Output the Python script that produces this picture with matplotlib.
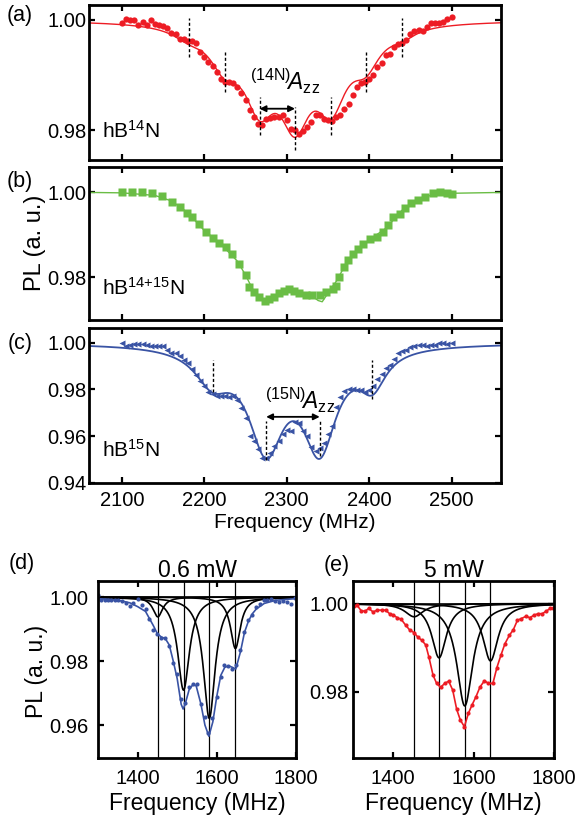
import numpy as np
import matplotlib
matplotlib.use('Agg')
import matplotlib.pyplot as plt

plt.rcParams['font.family'] = ['Liberation Sans', 'DejaVu Sans']
plt.rcParams['mathtext.fontset'] = 'custom'
plt.rcParams['mathtext.rm'] = 'Liberation Sans'
plt.rcParams['mathtext.it'] = 'Liberation Sans:italic'
plt.rcParams['mathtext.bf'] = 'Liberation Sans:bold'

RED = '#ed1c24'
GREEN = '#6abd45'
BLUE = '#3953a4'

# ---------------- (a) hB14N ----------------
a_x = np.arange(2100, 2501, 5)
a_y = [0.9994, 1.0001, 0.9999, 0.9999, 0.9991, 0.9996, 0.9991, 0.9999, 0.9993, 0.9991,
       0.9989, 0.9985, 0.9976, 0.9974, 0.9965, 0.9965, 0.9961, 0.9962, 0.9958, 0.9941,
       0.9932, 0.9924, 0.9917, 0.9906, 0.9892, 0.9888, 0.9887, 0.9885, 0.9879, 0.9867,
       0.9855, 0.9836, 0.9824, 0.9811, 0.9809, 0.9820, 0.9823, 0.9824, 0.9824, 0.9827,
       0.9819, 0.9803, 0.9801, 0.9794, 0.9799, 0.9806, 0.9815, 0.9828, 0.9828, 0.9821,
       0.9818, 0.9817, 0.9824, 0.9827, 0.9838, 0.9848, 0.9864, 0.9879, 0.9885, 0.9888,
       0.9893, 0.9901, 0.9915, 0.9922, 0.9936, 0.9939, 0.9950, 0.9956, 0.9958, 0.9964,
       0.9974, 0.9979, 0.9982, 0.9980, 0.9987, 0.9994, 0.9994, 0.9994, 0.9997, 1.0002,
       1.0006]
# fitted hyperfine lines (center, depth, half width)
a_centers = [2181, 2225, 2267, 2310, 2354, 2396, 2440]
a_depths = [0.0016, 0.0062, 0.0125, 0.0150, 0.0125, 0.0058, 0.0014]
a_hwhm = [23, 23, 23, 23, 23, 21, 20]
a_marks = [(2181, 0.9933, 1.0003), (2225, 0.9870, 0.9941), (2267, 0.9791, 0.9861),
           (2310, 0.9765, 0.9842), (2354, 0.9791, 0.9861), (2396, 0.9870, 0.9941),
           (2440, 0.9933, 1.0003)]

# ---------------- (b) hB14+15N ----------------
b_x = [2100, 2112, 2124, 2137, 2149, 2161, 2171, 2179, 2185, 2193, 2202, 2210, 2218, 2226,
       2234, 2242, 2250, 2254, 2260, 2266, 2273, 2279, 2285, 2291, 2297, 2303, 2309, 2315,
       2323, 2331, 2340, 2348, 2356, 2360, 2364, 2370, 2374, 2380, 2386, 2392, 2401, 2409,
       2417, 2423, 2429, 2437, 2443, 2451, 2459, 2468, 2478, 2486, 2494, 2500]
b_y = [1.0000, 1.0000, 1.0000, 0.9998, 0.9991, 0.9978, 0.9966, 0.9952, 0.9942, 0.9926,
       0.9907, 0.9893, 0.9881, 0.9871, 0.9855, 0.9832, 0.9804, 0.9776, 0.9764, 0.9754,
       0.9745, 0.9749, 0.9754, 0.9762, 0.9768, 0.9772, 0.9768, 0.9762, 0.9758, 0.9757,
       0.9757, 0.9764, 0.9772, 0.9780, 0.9800, 0.9824, 0.9841, 0.9855, 0.9867, 0.9879,
       0.9889, 0.9896, 0.9907, 0.9923, 0.9941, 0.9950, 0.9964, 0.9974, 0.9982, 0.9990,
       0.9998, 1.0000, 0.9998, 0.9996]
b_fit_x = [2060, 2100, 2140, 2160, 2180, 2200, 2220, 2240, 2250, 2260, 2270, 2280, 2290,
           2300, 2310, 2320, 2330, 2338, 2343, 2350, 2360, 2370, 2380, 2400, 2420, 2440,
           2460, 2480, 2500, 2560]
b_fit_y = [1.0000, 0.9999, 0.9993, 0.9980, 0.9952, 0.9910, 0.9878, 0.9838, 0.9805, 0.9766,
           0.9748, 0.9747, 0.9760, 0.9769, 0.9766, 0.9760, 0.9757, 0.9745, 0.9742, 0.9762,
           0.9790, 0.9825, 0.9855, 0.9888, 0.9915, 0.9958, 0.9983, 0.9997, 0.9998, 1.0000]

# ---------------- (c) hB15N ----------------
c_x = np.arange(2100, 2501, 5)
c_y = [1.0000, 0.9986, 0.9990, 0.9993, 0.9993, 0.9993, 0.9990, 0.9987, 0.9987, 0.9986,
       0.9986, 0.9968, 0.9957, 0.9954, 0.9942, 0.9928, 0.9914, 0.9886, 0.9860, 0.9835,
       0.9817, 0.9788, 0.9781, 0.9774, 0.9770, 0.9770, 0.9767, 0.9774, 0.9753, 0.9721,
       0.9680, 0.9601, 0.9580, 0.9544, 0.9508, 0.9508, 0.9530, 0.9558, 0.9580, 0.9609,
       0.9626, 0.9623, 0.9659, 0.9655, 0.9623, 0.9601, 0.9554, 0.9537, 0.9548, 0.9573,
       0.9609, 0.9645, 0.9724, 0.9767, 0.9793, 0.9803, 0.9803, 0.9799, 0.9796, 0.9791,
       0.9796, 0.9817, 0.9846, 0.9868, 0.9892, 0.9906, 0.9932, 0.9954, 0.9965, 0.9971,
       0.9980, 0.9986, 0.9990, 0.9990, 0.9986, 0.9990, 0.9990, 0.9997, 1.0000, 0.9993,
       0.9998]
c_centers = [2210, 2275, 2340, 2404]
c_depths = [0.014, 0.042, 0.042, 0.015]
c_hwhm = [26, 26, 25, 20]
c_marks = [(2210, 0.9788, 0.9925), (2275, 0.9500, 0.9666),
           (2340, 0.9515, 0.9666), (2404, 0.9760, 0.9925)]

# ---------------- (d) 0.6 mW ----------------
d_x = [1300, 1308, 1317, 1325, 1334, 1342, 1351, 1361, 1370, 1380, 1389, 1400, 1410,
       1420, 1429, 1439, 1449, 1459, 1470, 1480, 1490, 1500, 1509, 1519, 1530, 1539,
       1549, 1559, 1569, 1579, 1589, 1600, 1610, 1619, 1629, 1639, 1649, 1659, 1669,
       1678, 1688, 1698, 1708, 1718, 1728, 1738, 1748, 1758, 1768, 1778, 1788, 1798]
d_y = [1.0005, 0.9992, 0.9990, 0.9992, 0.9992, 0.9990, 0.9992, 0.9988, 0.9981, 0.9971,
       0.9981, 0.9995, 0.9974, 0.9964, 0.9932, 0.9896, 0.9884, 0.9873, 0.9873, 0.9846,
       0.9794, 0.9761, 0.9680, 0.9670, 0.9719, 0.9728, 0.9727, 0.9665, 0.9624, 0.9576,
       0.9621, 0.9688, 0.9751, 0.9787, 0.9784, 0.9774, 0.9787, 0.9834, 0.9891, 0.9927,
       0.9943, 0.9969, 0.9979, 0.9990, 0.9990, 0.9993, 0.9988, 0.9984, 0.9988, 0.9984,
       0.9977, 0.9998]
d_fit_x = [1300, 1350, 1380, 1400, 1420, 1440, 1450, 1460, 1470, 1480, 1490, 1500, 1510,
           1515, 1520, 1530, 1540, 1548, 1560, 1570, 1580, 1590, 1600, 1610, 1620, 1630,
           1640, 1648, 1660, 1670, 1680, 1690, 1700, 1720, 1750, 1800]
d_fit_y = [0.9995, 0.9990, 0.9982, 0.9970, 0.9955, 0.9910, 0.9885, 0.9875, 0.9870, 0.9850,
           0.9800, 0.9745, 0.9665, 0.9650, 0.9665, 0.9710, 0.9727, 0.9722, 0.9665, 0.9600,
           0.9565, 0.9610, 0.9690, 0.9755, 0.9780, 0.9785, 0.9780, 0.9775, 0.9830, 0.9890,
           0.9925, 0.9948, 0.9963, 0.9980, 0.9990, 0.9995]
d_centers = [1451, 1516, 1581, 1647]
d_depths = [0.0062, 0.0291, 0.0379, 0.0161]
d_hwhm = [15, 18, 18, 15]

# ---------------- (e) 5 mW ----------------
e_x = [1302, 1310, 1321, 1331, 1339, 1350, 1360, 1371, 1381, 1391, 1400, 1410, 1420,
       1431, 1441, 1452, 1462, 1471, 1481, 1489, 1499, 1508, 1518, 1528, 1538, 1548,
       1558, 1567, 1577, 1587, 1596, 1606, 1616, 1627, 1637, 1648, 1658, 1668, 1678,
       1689, 1699, 1709, 1719, 1730, 1740, 1751, 1761, 1771, 1781, 1791, 1798]
e_y = [0.9994, 0.9996, 0.9983, 0.9983, 0.9989, 0.9981, 0.9985, 0.9985, 0.9985, 0.9977,
       0.9974, 0.9968, 0.9964, 0.9951, 0.9940, 0.9934, 0.9923, 0.9917, 0.9906, 0.9878,
       0.9838, 0.9819, 0.9810, 0.9819, 0.9824, 0.9804, 0.9760, 0.9736, 0.9721, 0.9751,
       0.9770, 0.9789, 0.9811, 0.9825, 0.9819, 0.9819, 0.9855, 0.9883, 0.9909, 0.9928,
       0.9941, 0.9962, 0.9966, 0.9971, 0.9968, 0.9974, 0.9977, 0.9977, 0.9983, 0.9989,
       0.9989]
e_centers = [1452, 1514, 1578, 1642]
e_depths = [0.0030, 0.0123, 0.0232, 0.0130]
e_hwhm = [28, 22, 24, 23]


def lorentz(f, c, depth, hw):
    return depth / (1.0 + ((f - c) / hw) ** 2)


W, H = 577, 819
fig = plt.figure(figsize=(W / 100, H / 100), dpi=100)


def rect(l, t, r, b):
    return [l / W, 1 - b / H, (r - l) / W, (b - t) / H]


def style(ax, ypad=1.5, xpad=6):
    for s in ax.spines.values():
        s.set_linewidth(2.0)
    ax.tick_params(direction='in', top=True, right=True, length=4, width=1.6,
                   labelsize=14.5, pad=ypad)
    ax.tick_params(axis='x', pad=xpad)


ax_a = fig.add_axes(rect(89, 5, 501, 160))
ax_b = fig.add_axes(rect(89, 167, 501, 320))
ax_c = fig.add_axes(rect(89, 328, 501, 483))
ax_d = fig.add_axes(rect(98, 581, 296, 758))
ax_e = fig.add_axes(rect(353, 581, 554, 758))

xf = np.linspace(2060, 2560, 1001)
dash = (0, (2.2, 1.6))

# (a)
fit_a = 1.0 - sum(lorentz(xf, c, d, h) for c, d, h in zip(a_centers, a_depths, a_hwhm))
ax_a.plot(xf, fit_a, color=RED, lw=1.0)
ax_a.plot(a_x, a_y, 'o', color=RED, ms=4.5, mec='none')
for x, y0, y1 in a_marks:
    ax_a.vlines(x, y0, y1, colors='k', lw=1.0, linestyles=dash)
ax_a.annotate('', xy=(2310, 0.9839), xytext=(2267, 0.9839),
              arrowprops=dict(arrowstyle='<|-|>', lw=1.3, color='k',
                              shrinkA=0, shrinkB=0, mutation_scale=9))
ax_a.text(2255, 0.9873, r'$^{(14\mathrm{N})}\!A_{\mathrm{zz}}$', fontsize=16.5,
          ha='left', va='baseline')
ax_a.text(0.032, 0.19, r'hB$^{14}$N', transform=ax_a.transAxes, fontsize=15,
          ha='left', va='center')
ax_a.set_ylim(0.9746, 1.0027)
ax_a.set_yticks([0.98, 1.00])

# (b)
ax_b.plot(b_fit_x, b_fit_y, color=GREEN, lw=1.0)
ax_b.plot(b_x, b_y, 's', color=GREEN, ms=5.5, mec='none')
ax_b.text(0.032, 0.21, r'hB$^{14{+}15}$N', transform=ax_b.transAxes, fontsize=15,
          ha='left', va='center')
ax_b.set_ylim(0.9699, 1.006)
ax_b.set_yticks([0.98, 1.00])

# (c)
fit_c = 1.0 - sum(lorentz(xf, c, d, h) for c, d, h in zip(c_centers, c_depths, c_hwhm))
ax_c.plot(xf, fit_c, color=BLUE, lw=1.3)
ax_c.plot(c_x, c_y, '<', color=BLUE, ms=5, mec='none')
for x, y0, y1 in c_marks:
    ax_c.vlines(x, y0, y1, colors='k', lw=1.0, linestyles=dash)
ax_c.annotate('', xy=(2340, 0.9683), xytext=(2275, 0.9683),
              arrowprops=dict(arrowstyle='<|-|>', lw=1.3, color='k',
                              shrinkA=0, shrinkB=0, mutation_scale=9))
ax_c.text(2273, 0.9717, r'$^{(15\mathrm{N})}\!A_{\mathrm{zz}}$', fontsize=16.5,
          ha='left', va='baseline')
ax_c.text(0.032, 0.213, r'hB$^{15}$N', transform=ax_c.transAxes, fontsize=15,
          ha='left', va='center')
ax_c.set_ylim(0.94, 1.0063)
ax_c.set_yticks([0.94, 0.96, 0.98, 1.00])

for ax in (ax_a, ax_b, ax_c):
    ax.set_xlim(2060, 2560)
    ax.set_xticks([2100, 2200, 2300, 2400, 2500])
    ax.yaxis.set_major_formatter(matplotlib.ticker.FormatStrFormatter('%.2f'))
    style(ax)
for ax in (ax_a, ax_b):
    ax.set_xticklabels([])
ax_c.set_xlabel('Frequency (MHz)', fontsize=15, labelpad=2)
fig.text(35 / W, 1 - 243 / H, 'PL (a. u.)', rotation=90, fontsize=17,
         ha='center', va='center')

# (d) and (e)
xs = np.linspace(1300, 1800, 1001)
for ax, cs, ds, hs in ((ax_d, d_centers, d_depths, d_hwhm),
                       (ax_e, e_centers, e_depths, e_hwhm)):
    ax.axhline(1.0, color='k', lw=1.2)
    for c, d, h in zip(cs, ds, hs):
        ax.plot(xs, 1.0 - lorentz(xs, c, d, h), color='k', lw=1.2)
        ax.axvline(c, color='k', lw=0.9)
    ax.set_xlim(1300, 1800)
    ax.set_xticks([1400, 1600, 1800])
    ax.set_xlabel('Frequency (MHz)', fontsize=16.5, labelpad=3)
    ax.yaxis.set_major_formatter(matplotlib.ticker.FormatStrFormatter('%.2f'))

ax_d.plot(d_fit_x, d_fit_y, color=BLUE, lw=1.2)
ax_d.plot(d_x, d_y, 'o', color=BLUE, ms=3, mec='none')
ax_d.set_ylim(0.9497, 1.005)
ax_d.set_yticks([0.96, 0.98, 1.00])
style(ax_d, ypad=7, xpad=8)
ax_d.set_title('0.6 mW', fontsize=16.5, pad=3)

ax_e.plot(e_x, e_y, '-o', color=RED, ms=3, mec='none', lw=1.2)
ax_e.set_ylim(0.965, 1.0051)
ax_e.set_yticks([0.98, 1.00])
style(ax_e, ypad=3.5, xpad=8)
ax_e.set_title('5 mW', fontsize=16.5, pad=3)

fig.text(37 / W, 1 - 671 / H, 'PL (a. u.)', rotation=90, fontsize=16.5,
         ha='center', va='center')

for lab, x, y in (('(a)', 20, 16), ('(b)', 20, 181), ('(c)', 20, 343),
                  ('(d)', 22, 564), ('(e)', 337, 565)):
    fig.text(x / W, 1 - y / H, lab, fontsize=15.5, ha='center', va='center')

fig.savefig('out.png', dpi=100)
